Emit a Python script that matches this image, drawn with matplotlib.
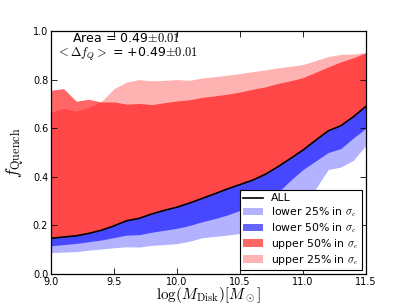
import matplotlib
matplotlib.use("Agg")
import matplotlib.pyplot as plt
import numpy as np

log_mdisk = [9.0, 9.1, 9.2, 9.3, 9.4, 9.5, 9.6, 9.7, 9.8, 9.9, 10.0, 10.1, 10.2,
             10.3, 10.4, 10.5, 10.6, 10.7, 10.8, 10.9, 11.0, 11.1, 11.2, 11.3, 11.4, 11.5]
f_all = [0.147, 0.152, 0.157, 0.167, 0.180, 0.198, 0.219, 0.229, 0.247, 0.262, 0.275,
         0.292, 0.311, 0.330, 0.350, 0.368, 0.386, 0.410, 0.441, 0.475, 0.510, 0.550,
         0.589, 0.610, 0.647, 0.690]
f_lower50 = [0.116, 0.121, 0.126, 0.133, 0.140, 0.150, 0.160, 0.162, 0.172, 0.180, 0.188,
             0.200, 0.215, 0.228, 0.243, 0.262, 0.285, 0.308, 0.335, 0.385, 0.430, 0.465,
             0.500, 0.516, 0.560, 0.600]
f_lower25 = [0.088, 0.090, 0.092, 0.098, 0.103, 0.108, 0.112, 0.111, 0.118, 0.121, 0.125,
             0.135, 0.149, 0.155, 0.160, 0.167, 0.190, 0.220, 0.250, 0.280, 0.310, 0.350,
             0.430, 0.440, 0.468, 0.530]
f_upper50 = [0.756, 0.763, 0.711, 0.719, 0.708, 0.708, 0.699, 0.702, 0.697, 0.705, 0.712,
             0.717, 0.727, 0.733, 0.740, 0.749, 0.760, 0.770, 0.784, 0.795, 0.808, 0.830,
             0.852, 0.873, 0.890, 0.911]
f_upper25 = [0.667, 0.681, 0.670, 0.685, 0.710, 0.763, 0.790, 0.800, 0.795, 0.797, 0.800,
             0.797, 0.807, 0.812, 0.818, 0.825, 0.833, 0.840, 0.848, 0.855, 0.862, 0.878,
             0.895, 0.904, 0.905, 0.911]
xticks = [9.0, 9.5, 10.0, 10.5, 11.0, 11.5]
yticks = [0.0, 0.2, 0.4, 0.6, 0.8, 1.0]
annot = "Area = 0.49$\\pm0.01$\n$<\\Delta f_Q>$ = +0.49$\\pm0.01$"

plt.rcParams['mathtext.fontset'] = 'cm'
plt.rcParams['font.family'] = 'DejaVu Sans'

fig = plt.figure(figsize=(4.07, 3.05), dpi=100)
ax = fig.add_axes([51/407, 1-274/305, 315/407, 243/305])

ax.fill_between(log_mdisk, f_all, f_upper50, color='red', alpha=0.6, lw=0,
                label='upper 50% in $\\sigma_c$')
ax.fill_between(log_mdisk, f_all, f_upper25, color='red', alpha=0.3, lw=0,
                label='upper 25% in $\\sigma_c$')
ax.fill_between(log_mdisk, f_lower50, f_all, color='blue', alpha=0.6, lw=0,
                label='lower 50% in $\\sigma_c$')
ax.fill_between(log_mdisk, f_lower25, f_all, color='blue', alpha=0.3, lw=0,
                label='lower 25% in $\\sigma_c$')
ax.plot(log_mdisk, f_all, color='black', lw=1.2, label='ALL')

ax.set_xlim(9.0, 11.5)
ax.set_ylim(0.0, 1.0)
ax.set_xticks(xticks)
ax.set_yticks(yticks)
ax.tick_params(direction='in', top=True, right=True, labelsize=7, length=4, width=0.6, pad=2)
for s in ax.spines.values():
    s.set_linewidth(0.9)

ax.set_xlabel('$\\log(M_{\\rm Disk})[M_\\odot]$', fontsize=11, labelpad=-1)
ax.set_ylabel('$f_{\\rm Quench}$', fontsize=12.5, labelpad=4)

ax.text(0.24, 0.995, annot, transform=ax.transAxes, ha='center', va='top',
        fontsize=9, linespacing=1.05, multialignment='center')

h, l = ax.get_legend_handles_labels()
order = [4, 3, 2, 0, 1]
leg = ax.legend([h[i] for i in order], [l[i] for i in order], loc='lower right',
                fontsize=7.8, fancybox=False, edgecolor='black', framealpha=1,
                borderaxespad=0.35, handlelength=1.8, labelspacing=0.18,
                borderpad=0.3, handletextpad=0.8)
leg.get_frame().set_linewidth(0.8)

fig.savefig('out.png', dpi=100, facecolor='white')
